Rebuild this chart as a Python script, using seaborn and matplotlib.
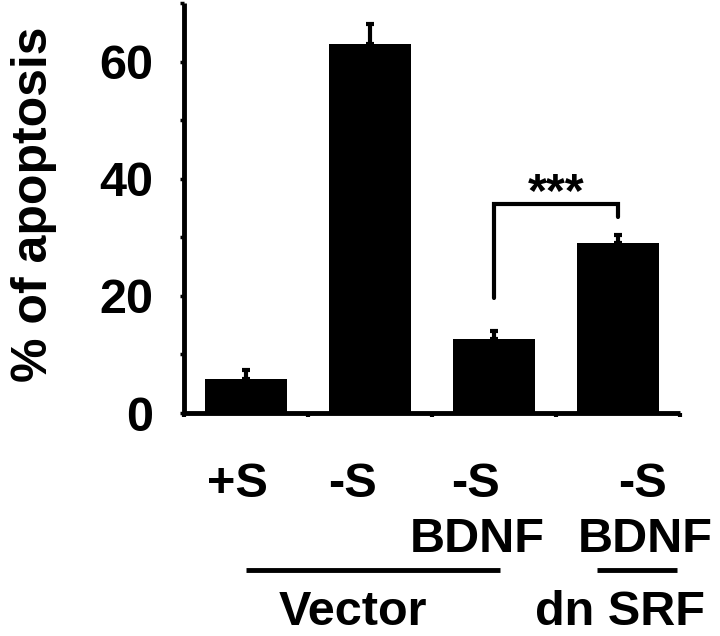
import numpy as np
import pandas as pd
import matplotlib
matplotlib.use('Agg')
import matplotlib.pyplot as plt
import matplotlib.transforms as mtransforms
import seaborn as sns

# values
conditions = ['+S Vector', '-S Vector', '-S BDNF Vector', '-S BDNF dnSRF']
apoptosis = [5.8, 63.0, 12.6, 29.0]
sem = [1.6, 3.4, 1.4, 1.4]

# label rows under the axis
serum_labels = ['+S', '-S', '-S', '-S']
serum_x = [-0.07, 0.86, 1.85, 3.2]
bdnf_labels = ['BDNF', 'BDNF']
bdnf_x = [1.866, 3.22]
group_names = ['Vector', 'dn SRF']
group_x = [0.86, 3.02]
group_start = [0.0, 2.83]
group_end = [2.05, 3.48]

# significance bracket between bar 3 and bar 4
bracket_bars = [2, 3]
bracket_low = [19.6, 33.5]
bracket_top = 35.7
stars_y = 35.4

y_major = [0, 20, 40, 60]
y_minor = [10, 30, 50, 70]

sns.set_style('ticks')
plt.rcParams['font.family'] = ['Liberation Sans', 'DejaVu Sans']
plt.rcParams['font.weight'] = 'bold'
plt.rcParams['text.color'] = 'black'
plt.rcParams['axes.labelcolor'] = 'black'
plt.rcParams['axes.edgecolor'] = 'black'
plt.rcParams['xtick.color'] = 'black'
plt.rcParams['ytick.color'] = 'black'

df = pd.DataFrame({'condition': conditions, 'apoptosis': apoptosis})

fig = plt.figure(figsize=(7.2, 6.36), dpi=100)
ax = fig.add_axes([0.2556, 0.3506, 0.6888, 0.6442])

sns.barplot(data=df, x='condition', y='apoptosis', color='black', width=0.66,
            errorbar=None, linewidth=0, ax=ax)
for p in ax.patches:
    p.set_facecolor('black')

xpos = np.arange(len(conditions))
ax.errorbar(xpos, apoptosis, yerr=[np.zeros(len(sem)), sem], fmt='none',
            ecolor='black', elinewidth=3, capsize=3, capthick=3)

ax.set_xlim(-0.5, 3.5)
ax.set_ylim(0, 70)
ax.set_xticks(np.arange(-0.5, 3.6, 1.0))
ax.set_xticklabels([])
ax.set_yticks(y_major)
ax.set_yticks(y_minor, minor=True)
ax.set_yticklabels([str(v) for v in y_major], fontsize=35, fontweight='bold', color='black')
ax.tick_params(axis='y', which='both', direction='out', length=3, width=2.5, pad=19, colors='black')
ax.tick_params(axis='x', direction='out', length=3, width=3, colors='black')
ax.set_xlabel('')
ax.set_ylabel('% of apoptosis', fontsize=36, fontweight='bold', color='black')
ax.yaxis.set_label_coords(-0.302, 0.51)
ax.yaxis.label.set_verticalalignment('center')

sns.despine(ax=ax)
for s in ['left', 'bottom']:
    ax.spines[s].set_linewidth(3.5)
    ax.spines[s].set_color('black')
    ax.spines[s].set_capstyle('butt')

# bracket
bx0, bx1 = bracket_bars
ax.plot([bx0, bx0, bx1, bx1], [bracket_low[0], bracket_top, bracket_top, bracket_low[1]],
        color='black', lw=3, solid_joinstyle='miter')
ax.text((bx0 + bx1) / 2, stars_y, '***', ha='center', va='baseline',
        fontsize=35, fontweight='bold', color='black')

# category labels below the axis
trans = mtransforms.blended_transform_factory(ax.transData, ax.transAxes)
for lab, x in zip(serum_labels, serum_x):
    ax.text(x, -0.205, lab, transform=trans, ha='center', va='baseline',
            fontsize=35, fontweight='bold', color='black')
for lab, x in zip(bdnf_labels, bdnf_x):
    ax.text(x, -0.339, lab, transform=trans, ha='center', va='baseline',
            fontsize=35, fontweight='bold', color='black')
for name, x, x0, x1 in zip(group_names, group_x, group_start, group_end):
    ax.plot([x0, x1], [-0.383, -0.383], transform=trans, color='black',
            lw=3.5, clip_on=False, solid_capstyle='butt')
    ax.text(x, -0.517, name, transform=trans, ha='center', va='baseline',
            fontsize=35, fontweight='bold', color='black')

fig.savefig('out.png', dpi=100)
